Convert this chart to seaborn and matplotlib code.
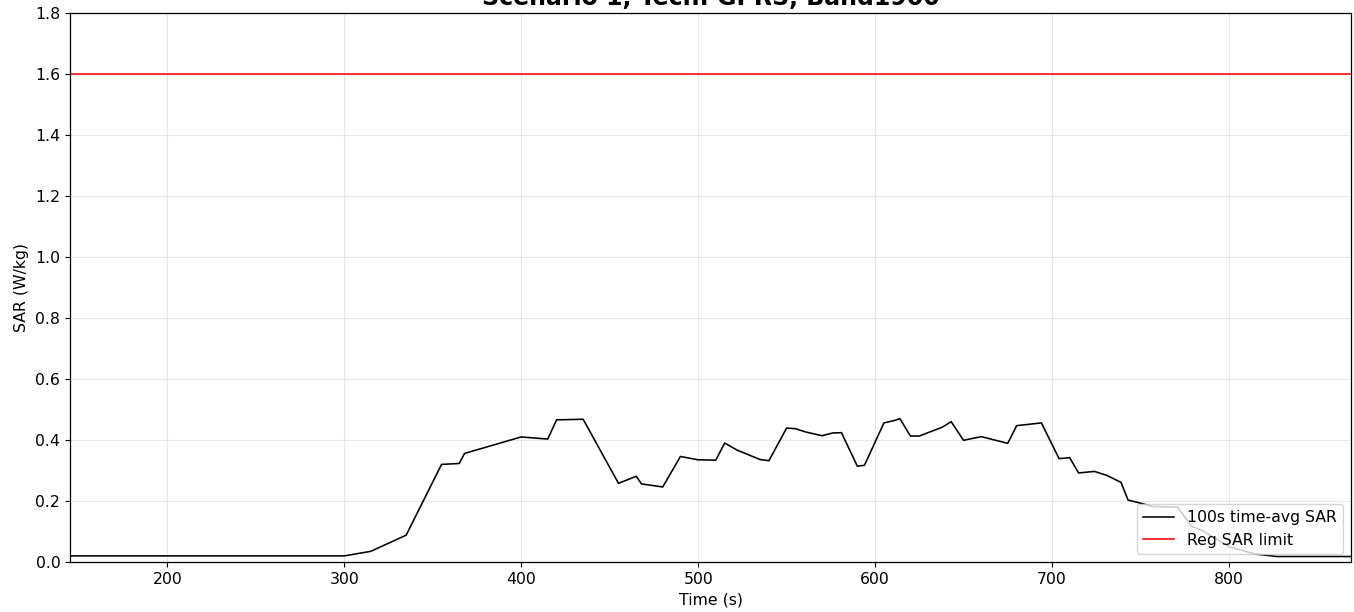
import pandas as pd
import matplotlib
matplotlib.use('Agg')
import matplotlib.pyplot as plt
import seaborn as sns

# Data
time_s = [145, 300, 315, 335, 355, 365, 368, 400, 415, 420, 435, 455, 465, 468,
          480, 490, 500, 510, 515, 522, 535, 540, 550, 555, 561, 570, 576, 581,
          590, 594, 605, 611, 614, 620, 625, 638, 643, 650, 660, 675, 680, 694,
          704, 710, 715, 724, 731, 739, 743, 748, 757, 771, 779, 785, 800, 815,
          827, 869]
sar_avg = [0.02, 0.02, 0.035, 0.088, 0.32, 0.323, 0.356, 0.41, 0.403, 0.466,
           0.468, 0.258, 0.281, 0.256, 0.246, 0.346, 0.335, 0.334, 0.39, 0.367,
           0.336, 0.332, 0.439, 0.437, 0.426, 0.414, 0.423, 0.424, 0.314, 0.317,
           0.456, 0.464, 0.47, 0.413, 0.413, 0.442, 0.46, 0.399, 0.411, 0.389,
           0.447, 0.456, 0.339, 0.342, 0.292, 0.297, 0.284, 0.261, 0.203, 0.196,
           0.182, 0.18, 0.117, 0.103, 0.05, 0.026, 0.018, 0.018]
sar_limit = 1.6

df = pd.DataFrame({'Time': time_s, 'SAR': sar_avg})

plt.rcParams['font.size'] = 11.3

fig = plt.figure(figsize=(13.54, 6.12), dpi=100)
ax = fig.add_axes([0.0517, 0.0817, 0.9461, 0.8971])

sns.lineplot(data=df, x='Time', y='SAR', color='black', linewidth=1.15,
             label='100s time-avg SAR', ax=ax)
ax.axhline(sar_limit, color='red', linewidth=1.15, label='Reg SAR limit')

ax.set_xlim(145, 869)
ax.set_ylim(0, 1.8)
ax.set_yticks([0.0, 0.2, 0.4, 0.6, 0.8, 1.0, 1.2, 1.4, 1.6, 1.8])
ax.grid(True, alpha=0.3)
for s in ax.spines.values():
    s.set_linewidth(0.9)
ax.set_xlabel('Time (s)')
ax.set_ylabel('SAR (W/kg)')
ax.set_title('Scenario 1, Tech: GPRS, Band1900', fontsize=17, fontweight='bold')
ax.legend(loc='lower right')

fig.savefig('out.png', dpi=100)
